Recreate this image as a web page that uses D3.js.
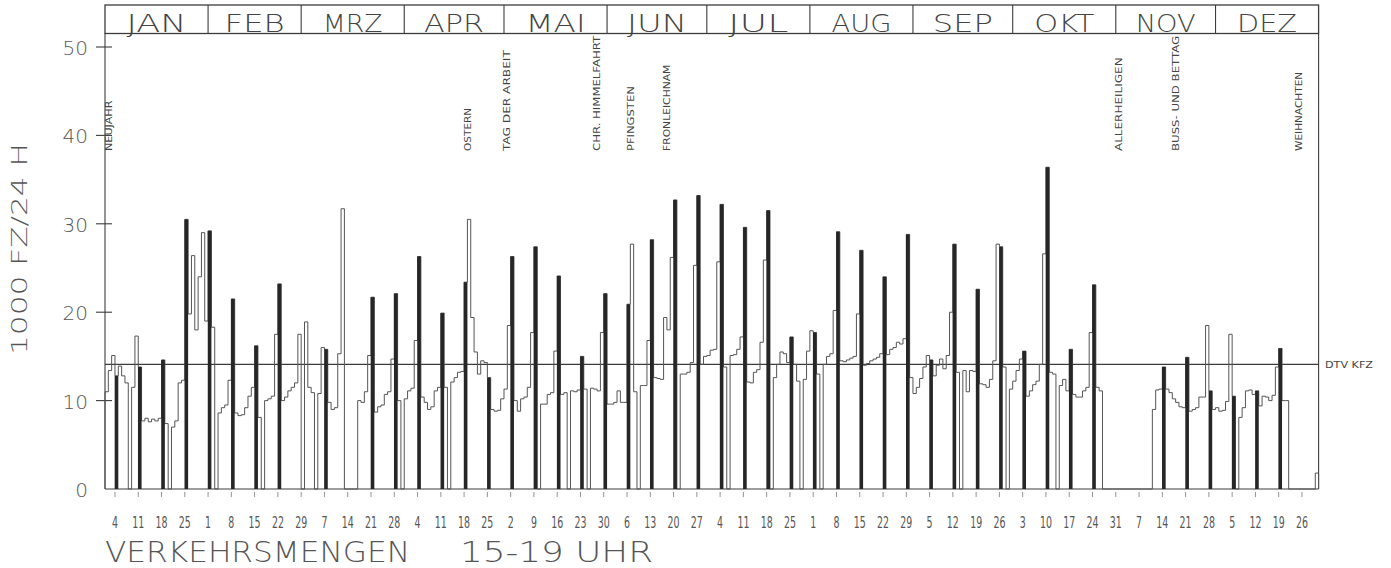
<!DOCTYPE html>
<html><head><meta charset="utf-8">
<script src="https://cdn.jsdelivr.net/npm/d3@7"></script>
<style>body{margin:0;background:#fff}svg{display:block}</style>
</head><body><svg id="c" width="1391" height="568"></svg>
<script>
// daily traffic volume 15-19 h, 1000 vehicles, 1 Jan .. 31 Dec (0 = no data)
const dailyValues = [
  11.0, 13.4, 15.1, 12.8, 13.9, 12.8, 12.0,
  0, 11.5, 17.3, 13.8, 7.7, 8.0, 7.6,
  7.9, 7.7, 8.0, 14.6, 7.4, 0, 7.0,
  7.7, 12.0, 12.3, 30.5, 19.8, 26.4, 18.0,
  24.0, 29.0, 19.0, 29.2, 18.3, 0, 8.6,
  9.2, 9.5, 12.3, 21.5, 8.6, 8.3, 8.4,
  9.2, 10.5, 11.5, 16.2, 8.1, 0, 10.0,
  10.2, 10.5, 17.5, 23.2, 10.0, 10.4, 11.1,
  11.5, 12.0, 17.5, 0, 18.9, 11.5, 10.9,
  0, 10.8, 16.0, 15.8, 9.8, 9.0, 9.2,
  15.3, 31.7, 0, 0, 0, 0, 10.0,
  9.8, 11.0, 15.1, 21.7, 8.7, 9.3, 9.5,
  10.7, 11.0, 14.7, 22.1, 10.0, 0, 10.2,
  11.1, 11.4, 16.8, 26.3, 10.4, 9.8, 9.0,
  9.3, 11.1, 11.5, 19.9, 11.5, 0, 12.1,
  12.6, 13.2, 13.3, 23.4, 30.5, 19.4, 15.5,
  13.0, 14.5, 14.3, 12.6, 9.0, 8.8, 8.9,
  10.2, 11.3, 18.5, 26.3, 10.0, 8.8, 10.2,
  10.4, 11.5, 17.7, 27.4, 0, 9.6, 9.6,
  10.7, 10.9, 15.6, 24.1, 10.7, 10.9, 0,
  11.1, 11.0, 11.2, 15.0, 11.3, 0, 11.4,
  11.3, 11.1, 17.7, 22.1, 9.6, 9.6, 9.8,
  11.1, 9.8, 9.8, 20.9, 27.7, 11.0, 0,
  11.7, 11.7, 16.8, 28.2, 12.6, 12.5, 12.4,
  19.4, 18.0, 26.2, 32.7, 0, 13.0, 13.0,
  13.2, 14.3, 25.3, 33.2, 14.1, 15.0, 15.1,
  15.7, 15.8, 25.7, 32.2, 13.8, 0, 15.1,
  15.2, 15.8, 17.2, 29.6, 12.1, 12.0, 13.2,
  13.5, 16.6, 25.9, 31.5, 0, 12.6, 14.1,
  15.5, 15.3, 14.3, 17.2, 14.1, 12.2, 0,
  12.4, 15.6, 17.9, 17.7, 13.0, 0, 14.1,
  15.0, 15.3, 20.2, 29.1, 14.5, 14.4, 14.6,
  14.8, 15.0, 19.8, 27.0, 14.0, 14.2, 14.5,
  14.7, 14.9, 15.3, 24.0, 15.2, 15.8, 16.0,
  16.6, 16.4, 17.0, 28.8, 12.6, 10.8, 11.5,
  12.5, 13.8, 15.1, 14.6, 12.8, 14.0, 14.7,
  13.6, 15.1, 20.0, 27.7, 13.2, 0, 13.4,
  11.0, 13.4, 13.3, 22.6, 11.9, 11.8, 11.5,
  12.4, 14.5, 27.7, 27.4, 13.8, 0, 11.3,
  12.2, 13.4, 14.7, 15.6, 10.5, 11.1, 11.8,
  12.2, 14.1, 26.6, 36.4, 13.2, 13.0, 0,
  11.7, 12.4, 11.1, 15.8, 10.7, 10.4, 10.4,
  11.1, 11.5, 17.7, 23.1, 11.5, 11.1, 0,
  0, 0, 0, 0, 0, 0, 0,
  0, 0, 0, 0, 0, 0, 0,
  9.0, 11.2, 11.3, 13.8, 11.3, 10.9, 10.2,
  9.8, 9.3, 9.2, 14.9, 8.8, 9.0, 9.2,
  10.4, 10.4, 18.5, 11.1, 9.0, 9.2, 8.8,
  8.9, 9.9, 17.5, 10.5, 0, 8.1, 9.2,
  11.1, 11.2, 10.7, 11.1, 9.4, 10.5, 10.4,
  10.0, 10.6, 13.8, 15.9, 10.0, 10.0, 0,
  0, 0, 0, 0, 0, 0, 0,
  1.8
];
const monthNames = ["JAN","FEB","MRZ","APR","MAI","JUN","JUL","AUG","SEP","OKT","NOV","DEZ"];
const monthLengths = [31,28,31,30,31,30,31,31,30,31,30,31];
const weekTickLabels = ["4","11","18","25","1","8","15","22","29","7","14","21","28","4","11","18","25",
  "2","9","16","23","30","6","13","20","27","4","11","18","25","1","8","15","22","29",
  "5","12","19","26","3","10","17","24","31","7","14","21","28","5","12","19","26"];
const yTickValues = [0,10,20,30,40,50];
const holidayNames = ["NEUJAHR","OSTERN","TAG DER ARBEIT","CHR. HIMMELFAHRT","PFINGSTEN","FRONLEICHNAM","ALLERHEILIGEN","BUSS- UND BETTAG","WEIHNACHTEN"];
const holidayDays = [0,108,120,147,157,168,304,321,358];
const dtvValue = 14.1;
const dtvLabel = "DTV KFZ";
const firstSunday = 3;
const yTitle = "1000 FZ/24 H";
const titleMain = "VERKEHRSMENGEN";
const titleSub = "15-19 UHR";

const svg = d3.select("#c");
const x = d3.scaleLinear().domain([0, 365]).range([105, 1318.6]);
const y = d3.scaleLinear().domain([0, 50]).range([489, 47]);
const ink = "#3c3c3c";
const font = "'DejaVu Sans', 'Liberation Sans', sans-serif";
const headTop = 5, headBot = 33.5;

// header box with months
svg.append("rect").attr("x", x(0)).attr("y", headTop).attr("width", x(365) - x(0))
  .attr("height", headBot - headTop).attr("fill", "none").attr("stroke", ink).attr("stroke-width", 1.3);
const monthStart = d3.cumsum([0, ...monthLengths]);
svg.append("g").selectAll("line").data(monthStart.slice(1, 12)).join("line")
  .attr("x1", d => x(d)).attr("x2", d => x(d)).attr("y1", headTop).attr("y2", headBot)
  .attr("stroke", ink).attr("stroke-width", 1.1);
svg.append("g").selectAll("text").data(monthNames).join("text")
  .attr("x", (d, i) => x(monthStart[i] + monthLengths[i] / 2))
  .attr("y", 31.5).attr("text-anchor", "middle")
  .attr("textLength", 60).attr("lengthAdjust", "spacingAndGlyphs")
  .attr("font-family", font).attr("font-weight", 200).attr("font-size", 24)
  .attr("fill", "#444").text(d => d);

// frame: left axis, right edge, baseline
svg.append("line").attr("x1", x(0)).attr("x2", x(0)).attr("y1", headBot).attr("y2", y(0)).attr("stroke", ink).attr("stroke-width", 1.1);
svg.append("line").attr("x1", x(365)).attr("x2", x(365)).attr("y1", headBot).attr("y2", y(0)).attr("stroke", ink).attr("stroke-width", 1.1);
svg.append("line").attr("x1", x(0)).attr("x2", x(365)).attr("y1", y(0)).attr("y2", y(0)).attr("stroke", ink).attr("stroke-width", 1.2);

// y axis ticks + labels
const yg = svg.append("g");
yg.selectAll("line").data(yTickValues.filter(v => v > 0)).join("line")
  .attr("x1", 96).attr("x2", 112).attr("y1", d => y(d)).attr("y2", d => y(d))
  .attr("stroke", ink).attr("stroke-width", 1.1);
yg.selectAll("text").data(yTickValues).join("text")
  .attr("x", 88).attr("y", d => y(d) + 8).attr("text-anchor", "end")
  .attr("font-family", font).attr("font-weight", 200).attr("font-size", 20).attr("fill", "#555")
  .text(d => d);
svg.append("text").attr("transform", "translate(19,249) rotate(-90)")
  .attr("text-anchor", "middle").attr("dominant-baseline", "central")
  .attr("textLength", 212).attr("lengthAdjust", "spacingAndGlyphs")
  .attr("font-family", font).attr("font-weight", 200).attr("font-size", 22).attr("fill", "#555")
  .text(yTitle);

// x week ticks + labels
const tickDays = weekTickLabels.map((_, i) => firstSunday + 7 * i);
const xg = svg.append("g");
xg.selectAll("line").data(tickDays).join("line")
  .attr("x1", d => x(d)).attr("x2", d => x(d)).attr("y1", 492).attr("y2", 497)
  .attr("stroke", "#777").attr("stroke-width", 0.8);
xg.selectAll("text").data(weekTickLabels).join("text")
  .attr("x", (d, i) => x(tickDays[i])).attr("y", 528).attr("text-anchor", "middle")
  .attr("textLength", d => d.length > 1 ? 12 : 6).attr("lengthAdjust", "spacingAndGlyphs")
  .attr("font-family", font).attr("font-size", 16).attr("fill", "#555")
  .text(d => d);

// DTV line
svg.append("line").attr("x1", x(0)).attr("x2", x(365)).attr("y1", y(dtvValue)).attr("y2", y(dtvValue))
  .attr("stroke", ink).attr("stroke-width", 1.3);
svg.append("text").attr("x", 1325).attr("y", y(dtvValue) + 4)
  .attr("textLength", 48).attr("lengthAdjust", "spacingAndGlyphs")
  .attr("font-family", font).attr("font-size", 9).attr("fill", "#444").text(dtvLabel);

// daily step line
const pts = [[0, 0], ...dailyValues.map((v, i) => [i, v]), [365, dailyValues[364]], [365, 0]];
const stepLine = d3.line().x(d => x(d[0])).y(d => y(d[1])).curve(d3.curveStepAfter);
svg.append("path").attr("d", stepLine(pts)).attr("fill", "none")
  .attr("stroke", "#555").attr("stroke-width", 1);

// Sunday bars
const sundays = dailyValues.map((v, i) => ({ i, v })).filter(d => (d.i - firstSunday) % 7 === 0 && d.v > 0);
svg.append("g").selectAll("rect").data(sundays).join("rect")
  .attr("x", d => x(d.i) - 0.3).attr("width", d => x(d.i + 1) - x(d.i) + 0.3)
  .attr("y", d => y(d.v)).attr("height", d => y(0) - y(d.v))
  .attr("fill", "#262626");

// holiday labels
svg.append("g").selectAll("text").data(holidayNames).join("text")
  .attr("transform", (d, i) => `translate(${x(holidayDays[i]) + 4},151) rotate(-90)`)
  .attr("dominant-baseline", "central")
  .attr("textLength", d => d.length * 7.2).attr("lengthAdjust", "spacingAndGlyphs")
  .attr("font-family", font).attr("font-size", 8).attr("fill", "#444")
  .text(d => d);

// title
svg.append("text").attr("x", 105).attr("y", 562).attr("textLength", 305).attr("lengthAdjust", "spacingAndGlyphs")
  .attr("font-family", font).attr("font-weight", 200).attr("font-size", 28).attr("fill", "#555").text(titleMain);
svg.append("text").attr("x", 460).attr("y", 562).attr("textLength", 193).attr("lengthAdjust", "spacingAndGlyphs")
  .attr("font-family", font).attr("font-weight", 200).attr("font-size", 28).attr("fill", "#555").text(titleSub);
</script></body></html>
